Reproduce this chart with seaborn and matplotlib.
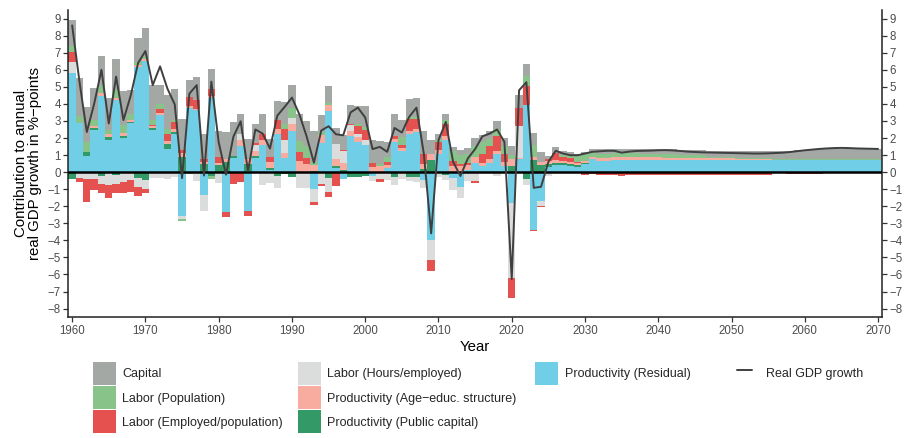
import numpy as np
import matplotlib
matplotlib.use("Agg")
import matplotlib.pyplot as plt
import seaborn as sns
from matplotlib.patches import Patch
from matplotlib.lines import Line2D

years = list(range(1960, 2071))

residual = [
    5.80, 2.88, 0.95, 2.49, 4.49, 1.87, 4.24, 2.00, 2.88, 6.15,
    6.50, 2.49, 3.33, 1.36, 2.22, -2.60, 3.75, 3.63, -1.35, 4.37,
    0.00, -2.32, 0.84, 1.52, -2.30, 0.85, 1.58, 0.12, 2.22, 0.82,
    2.39, 0.00, 0.00, -1.00, 1.68, 3.57, 0.25, -0.41, 2.10, 1.77,
    1.58, -0.21, 0.00, 0.23, 1.77, 1.21, 2.22, 2.36, -0.47, -3.97,
    1.05, 1.87, -0.37, -0.86, 0.15, 0.51, 0.35, 0.51, 1.05, 0.37,
    -1.83, 0.76, 3.91, -3.39, -1.70, 0.30, 0.41, 0.41, 0.37, 0.31,
    0.47, 0.74, 0.68, 0.68, 0.70, 0.70, 0.70, 0.70, 0.70, 0.70,
    0.70, 0.70, 0.70, 0.70, 0.70, 0.70, 0.70, 0.70, 0.70, 0.70,
    0.70, 0.70, 0.70, 0.70, 0.70, 0.70, 0.70, 0.70, 0.70, 0.70,
    0.70, 0.70, 0.70, 0.70, 0.70, 0.70, 0.70, 0.70, 0.70, 0.70,
    0.70]

public_capital = [
    -0.39, 0.00, 0.23, 0.10, -0.21, 0.19, -0.16, 0.12, 0.06, -0.33,
    -0.47, 0.08, 0.00, 0.27, 0.12, 0.90, 0.00, 0.00, 0.50, -0.20,
    0.39, 0.60, 0.10, 0.00, 0.47, 0.10, 0.00, 0.12, -0.21, -0.10,
    -0.27, 0.00, 0.00, 0.06, 0.00, -0.33, 0.12, 0.12, -0.27, -0.27,
    -0.21, 0.00, 0.00, 0.00, -0.27, 0.00, -0.27, -0.27, 0.20, 0.70,
    0.00, -0.18, 0.00, 0.00, 0.00, 0.00, 0.00, 0.00, 0.00, 0.00,
    0.35, 0.00, -0.41, 0.70, 0.41, 0.15, 0.14, 0.10, 0.10, 0.10,
    0.08, 0.00, 0.00, 0.00, 0.00, 0.00, 0.00, 0.00, 0.00, 0.00,
    0.00, 0.00, 0.00, 0.00, 0.00, 0.00, 0.00, 0.00, 0.00, 0.00,
    0.00, 0.00, 0.00, 0.00, 0.00, 0.00, 0.00, 0.00, -0.04, -0.04,
    -0.04, -0.04, -0.04, -0.04, -0.04, -0.04, -0.04, 0.00, 0.00, 0.00,
    0.00]

age_educ = [
    0.00, 0.00, 0.00, 0.12, 0.14, 0.16, 0.12, 0.16, 0.12, 0.14,
    0.12, 0.12, 0.12, 0.18, 0.18, 0.23, 0.14, 0.05, 0.10, 0.08,
    0.12, 0.16, 0.00, 0.35, 0.29, 0.30, 0.29, 0.37, 0.33, 0.33,
    0.41, 0.64, 0.47, 0.35, 0.49, 0.39, 0.39, 0.39, 0.31, 0.29,
    0.00, 0.31, 0.35, 0.18, 0.16, 0.23, 0.19, 0.19, 0.27, 0.35,
    0.27, 0.23, 0.35, 0.37, 0.25, 0.39, 0.16, 0.25, 0.18, 0.23,
    0.41, 0.08, 0.00, 0.20, 0.20, 0.20, 0.14, 0.14, 0.12, 0.10,
    0.12, 0.16, 0.16, 0.16, 0.16, 0.16, 0.16, 0.16, 0.16, 0.16,
    0.16, 0.14, 0.14, 0.14, 0.14, 0.14, 0.14, 0.10, 0.10, 0.10,
    0.10, 0.06, 0.06, 0.06, 0.06, 0.06, 0.03, 0.03, 0.03, 0.03,
    0.03, 0.02, 0.02, 0.02, 0.02, 0.02, 0.02, 0.02, 0.02, 0.02,
    0.02]

hours = [
    0.64, -0.33, -0.43, -0.43, -0.49, -0.76, -0.54, -0.60, -0.47, -0.53,
    -0.53, -0.33, -0.33, -0.39, -0.27, -0.16, 0.00, -0.50, -0.93, 0.00,
    -0.66, 0.00, 0.00, 0.35, 0.00, 0.35, -0.74, -0.62, -0.70, 0.76,
    0.39, -0.92, -0.92, -0.78, -0.72, -0.82, 0.86, 0.70, 0.33, 0.16,
    0.29, -0.29, -0.40, -0.47, -0.47, -0.41, -0.23, -0.29, -0.45, -1.21,
    -0.27, -0.29, -0.68, -0.64, -0.51, -0.51, -0.08, -0.08, -0.21, 0.00,
    -4.38, 1.85, -0.33, 0.00, -0.29, -0.20, -0.05, 0.00, 0.00, 0.00,
    0.00, 0.00, 0.00, 0.00, 0.00, 0.00, 0.00, 0.00, 0.00, 0.00,
    0.00, 0.00, 0.00, 0.00, 0.00, 0.00, 0.00, 0.00, 0.00, 0.00,
    0.00, 0.00, 0.00, 0.00, 0.00, 0.00, 0.00, 0.00, 0.00, 0.00,
    0.00, 0.00, 0.00, 0.00, 0.00, 0.00, 0.00, 0.00, 0.00, 0.00,
    0.00]

employed = [
    0.62, -0.25, -1.30, -0.62, -0.51, -0.74, -0.54, -0.64, -0.68, -0.53,
    -0.21, 0.08, 0.23, 0.45, 0.39, 0.16, 0.50, 0.55, 0.15, 0.45,
    0.39, -0.33, -0.72, -0.56, -0.30, 0.10, 0.35, 0.29, 0.49, 0.64,
    0.00, 0.55, 0.33, -0.16, -0.08, -0.29, -0.80, 0.06, 0.06, 0.47,
    0.62, 0.20, -0.15, 0.20, 0.20, 0.14, 0.68, 0.55, 0.62, -0.60,
    0.45, 0.74, 0.33, 0.10, 0.14, -0.12, 0.55, 0.76, 0.88, 0.45,
    -1.17, 1.08, 1.11, -0.06, -0.06, 0.10, 0.45, 0.25, 0.25, 0.10,
    -0.14, -0.12, -0.17, -0.17, -0.17, -0.25, -0.17, -0.17, -0.17, -0.17,
    -0.17, -0.17, -0.17, -0.17, -0.17, -0.17, -0.17, -0.17, -0.17, -0.17,
    -0.17, -0.17, -0.17, -0.17, -0.17, -0.17, -0.06, -0.06, -0.06, -0.06,
    -0.06, -0.06, -0.06, -0.02, -0.02, -0.02, -0.02, -0.02, -0.02, -0.02,
    -0.02]

population = [
    0.35, 0.43, 0.58, 0.33, 0.39, 0.27, 0.43, 0.47, 0.37, 0.16,
    0.12, 0.27, 0.33, 0.29, 0.14, -0.08, -0.12, 0.00, 0.00, -0.18,
    0.00, 0.00, 0.00, -0.04, 0.00, 0.00, 0.00, 0.00, 0.00, 0.29,
    0.56, 0.62, 0.72, 0.20, 0.20, 0.12, 0.00, 0.00, 0.00, 0.12,
    0.16, 0.00, 0.15, 0.29, 0.00, 0.49, 0.14, 0.14, 0.00, 0.00,
    0.10, 0.19, 0.58, 0.53, 0.55, 0.62, 0.68, 0.45, 0.41, 0.49,
    0.23, 0.00, 0.60, 0.68, 0.00, 0.00, 0.00, 0.10, 0.12, 0.33,
    0.37, 0.35, 0.25, 0.25, 0.25, 0.25, 0.25, 0.25, 0.22, 0.22,
    0.22, 0.22, 0.22, 0.16, 0.16, 0.16, 0.16, 0.10, 0.10, 0.10,
    0.10, 0.05, 0.05, 0.05, 0.05, 0.05, 0.03, 0.03, 0.03, 0.03,
    0.03, 0.03, 0.03, 0.03, 0.03, 0.03, 0.03, 0.03, 0.03, 0.03,
    0.03]

capital = [
    1.50, 2.18, 2.08, 1.91, 1.81, 1.87, 1.85, 1.98, 1.40, 1.42,
    1.70, 2.04, 1.08, 1.95, 1.85, 1.81, 1.00, 1.33, 1.50, 1.16,
    1.50, 1.58, 1.99, 1.17, 1.17, 1.10, 1.17, 1.07, 1.11, 1.27,
    1.33, 1.58, 1.46, 1.80, 1.00, 0.96, 0.96, 0.88, 1.11, 1.05,
    1.21, 1.40, 1.30, 0.86, 1.27, 0.97, 1.03, 1.13, 1.30, 0.82,
    0.35, 0.39, 0.23, 0.29, 0.33, 0.49, 0.43, 0.43, 0.47, 0.47,
    0.53, 0.73, 0.69, 0.74, 0.55, 0.20, 0.33, 0.23, 0.20, 0.10,
    0.16, 0.10, 0.25, 0.25, 0.25, 0.25, 0.25, 0.25, 0.27, 0.27,
    0.27, 0.27, 0.27, 0.30, 0.30, 0.30, 0.30, 0.35, 0.35, 0.35,
    0.35, 0.40, 0.40, 0.40, 0.40, 0.40, 0.45, 0.48, 0.50, 0.53,
    0.55, 0.57, 0.59, 0.60, 0.60, 0.60, 0.60, 0.60, 0.60, 0.60,
    0.60]

gdp_growth = [
    8.60, 5.30, 2.35, 4.00, 6.00, 2.85, 5.60, 3.05, 4.50, 6.40,
    7.10, 5.10, 6.20, 4.90, 3.97, -0.35, 4.60, 5.10, -0.20, 5.30,
    1.75, -0.15, 2.07, 2.98, 0.06, 2.50, 2.26, 1.38, 3.31, 3.82,
    4.37, 3.40, 2.10, 0.55, 2.44, 2.69, 2.22, 2.16, 3.50, 3.78,
    3.20, 1.35, 1.48, 1.19, 2.59, 2.32, 3.24, 3.78, 1.09, -3.59,
    1.87, 2.94, 0.60, -0.23, 0.80, 1.35, 2.10, 2.26, 2.50, 1.77,
    -6.27, 4.80, 5.27, -0.92, -0.86, 0.60, 1.25, 1.09, 0.99, 0.99,
    1.09, 1.19, 1.22, 1.25, 1.25, 1.14, 1.20, 1.24, 1.25, 1.26,
    1.28, 1.29, 1.27, 1.24, 1.20, 1.18, 1.16, 1.15, 1.14, 1.13,
    1.12, 1.11, 1.10, 1.09, 1.09, 1.10, 1.12, 1.14, 1.18, 1.23,
    1.28, 1.32, 1.36, 1.39, 1.41, 1.42, 1.41, 1.39, 1.38, 1.37,
    1.36]

# legend order (top of stack first)
labels = ["Capital", "Labor (Population)", "Labor (Employed/population)",
          "Labor (Hours/employed)", "Productivity (Age\u2212educ. structure)",
          "Productivity (Public capital)", "Productivity (Residual)"]
colors = ["#A3A8A5", "#88C38A", "#E4514F", "#DADDDC", "#F7AC9F",
          "#339966", "#70CFE6"]
series = [capital, population, employed, hours, age_educ, public_capital, residual]

sns.set_theme(style="ticks")
plt.rcParams['font.family'] = ['Liberation Sans', 'DejaVu Sans']

fig = plt.figure(figsize=(9.06, 4.38), dpi=100)
ax = fig.add_axes([0.0756, 0.276, 0.8976, 0.701])

x = np.array(years)
pos_base = np.zeros(len(years))
neg_base = np.zeros(len(years))
# stack from bottom: residual first ... capital last
for lab, col, vals in reversed(list(zip(labels, colors, series))):
    v = np.array(vals, dtype=float)
    p = np.where(v > 0, v, 0.0)
    q = np.where(v < 0, v, 0.0)
    ax.bar(x, p, bottom=pos_base, width=1.0, color=col, linewidth=0, zorder=1)
    ax.bar(x, q, bottom=neg_base, width=1.0, color=col, linewidth=0, zorder=1)
    pos_base += p
    neg_base += q

ax.axhline(0, color="black", lw=1.8, zorder=3)
sns.lineplot(x=years, y=gdp_growth, ax=ax, color="#3f3f3f", linewidth=1.4, zorder=4)

ax.set_xlim(1959.5, 2070.5)
ax.set_ylim(-8.5, 9.5)
ax.set_yticks(range(-8, 10))
ax.set_xticks(range(1960, 2071, 10))

for s in ["left", "right", "bottom"]:
    ax.spines[s].set_visible(True)
    ax.spines[s].set_color("#222222")
    ax.spines[s].set_linewidth(1.1)
ax.spines["top"].set_visible(False)

ax.tick_params(axis="both", length=3.5, width=0.9, color="#333333",
               labelsize=8.3, labelcolor="#4D4D4D", pad=2)
ax.tick_params(axis="y", right=True, labelright=True, left=True, labelleft=True)

ax.set_xlabel("Year", fontsize=10.8, labelpad=2, color="black")
ax.set_ylabel("Contribution to annual\nreal GDP growth in %\u2212points",
              fontsize=10.8, labelpad=4, color="black", linespacing=1.0)

fs = 9
common = dict(loc="upper left", frameon=False, borderpad=0, borderaxespad=0,
              fontsize=fs, labelspacing=0.1, handleheight=2.45)

def patch(c):
    return Patch(facecolor=c, edgecolor="none")

top = 1 - 362 / 438
fig.legend([patch(colors[i]) for i in range(3)], labels[0:3],
           bbox_to_anchor=(93 / 906, top), handlelength=1.8,
           handletextpad=0.55, **common)
fig.legend([patch(colors[i]) for i in range(3, 6)], labels[3:6],
           bbox_to_anchor=(298 / 906, top), handlelength=1.8,
           handletextpad=0.55, **common)
fig.legend([patch(colors[6])], labels[6:7],
           bbox_to_anchor=(535 / 906, top), handlelength=1.8,
           handletextpad=0.6, **common)
fig.legend([Line2D([0], [0], color="#3f3f3f", lw=1.4)], ["Real GDP growth"],
           bbox_to_anchor=(737 / 906, top), handlelength=1.2,
           handletextpad=1.1, **common)

fig.savefig("out.png", dpi=100)
